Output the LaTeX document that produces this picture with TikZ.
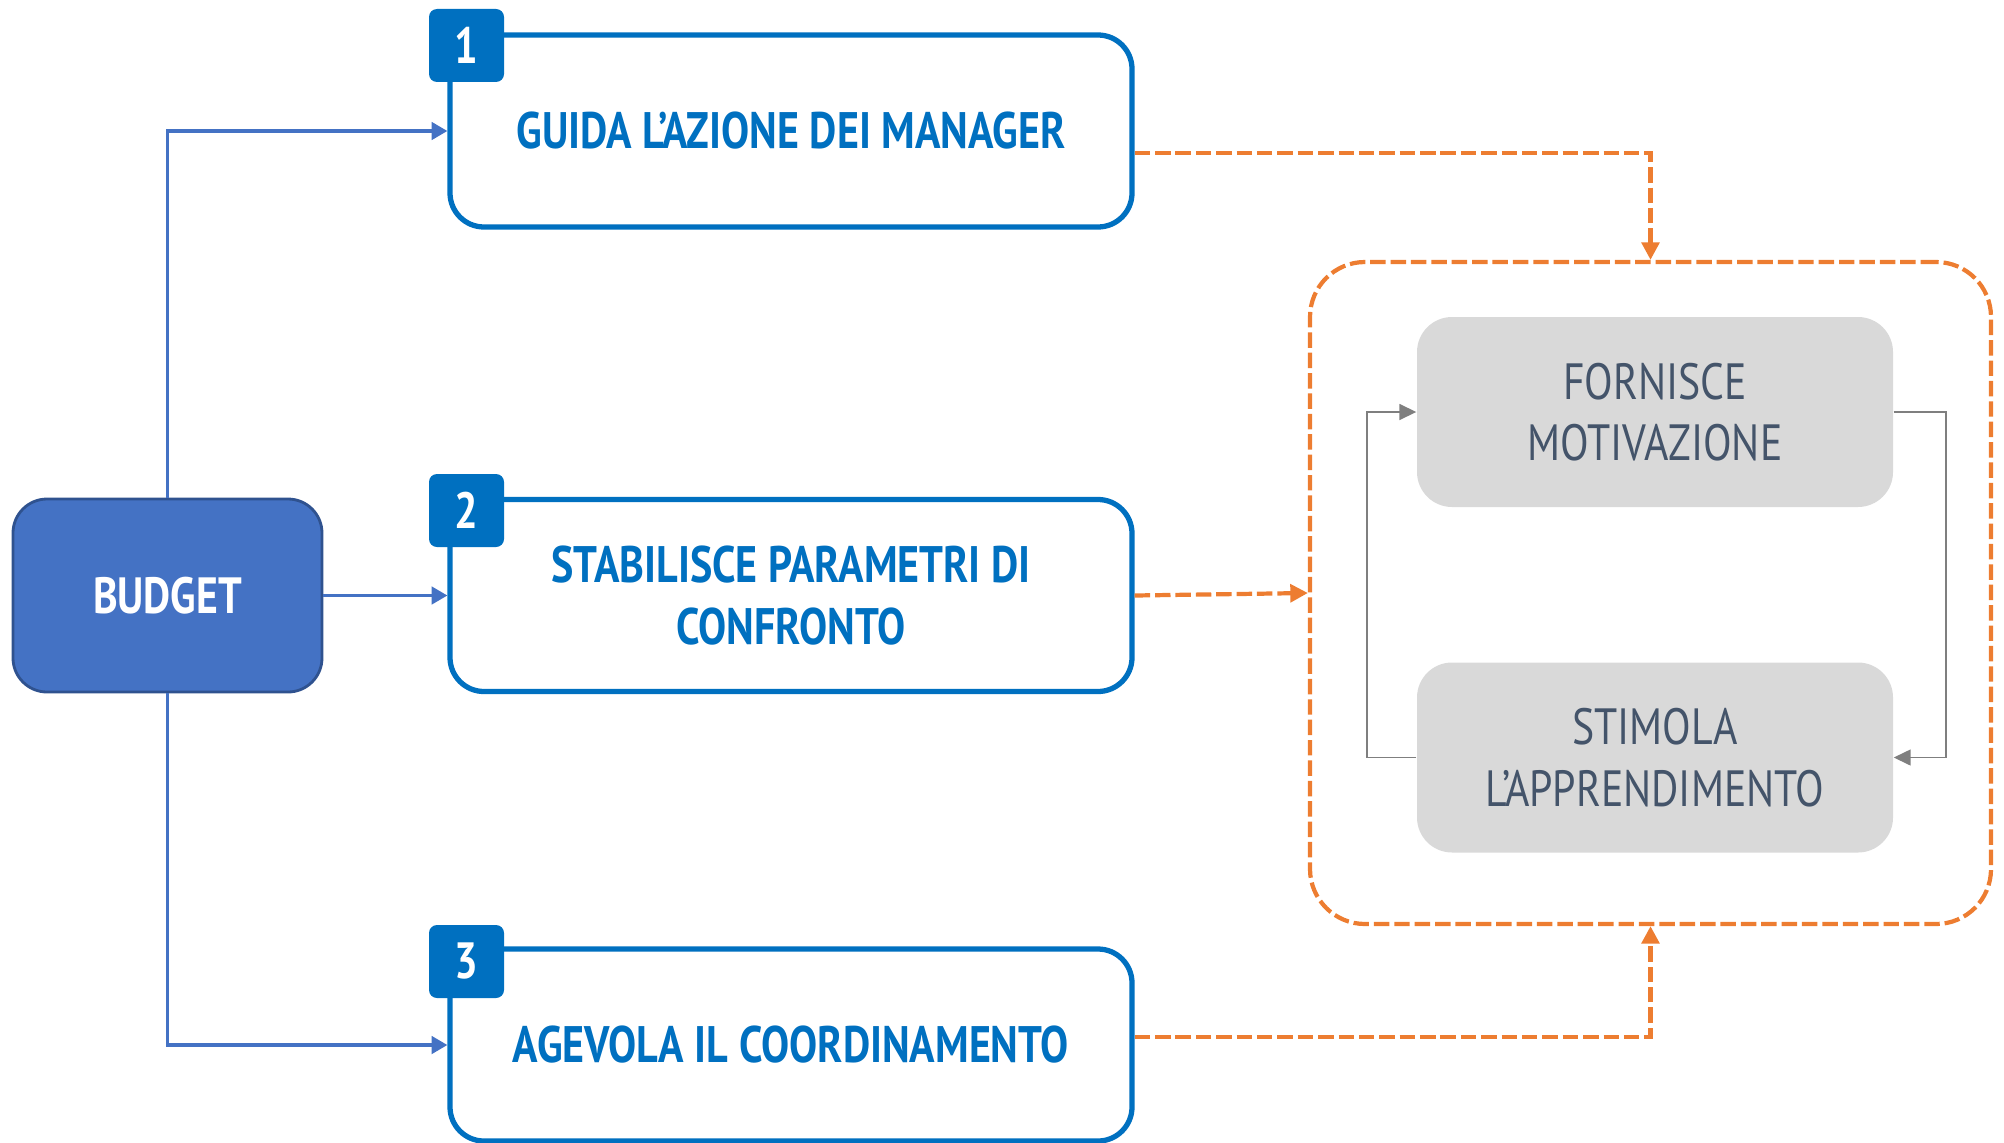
\documentclass[tikz,border=0pt]{standalone}
\usepackage{fontspec}
\setmainfont{PT Sans}[FakeStretch=0.82]
\usepackage{tikz}
\usetikzlibrary{arrows.meta}
\definecolor{goalblue}{HTML}{0070C0}
\definecolor{budgetblue}{HTML}{4472C4}
\definecolor{budgetedge}{HTML}{2F528F}
\definecolor{effectorange}{HTML}{ED7D31}
\definecolor{effectgray}{HTML}{D9D9D9}
\definecolor{effecttext}{HTML}{44546A}
\definecolor{backgray}{HTML}{7F7F7F}

\begin{document}
\begin{tikzpicture}[
  budget/.style={draw=budgetedge, fill=budgetblue, line width=0.8pt, rounded corners=0.34cm,
    minimum width=3.09cm, minimum height=1.93cm, text=white, font=\bfseries\fontsize{14.5}{17.5}\selectfont},
  goal/.style={draw=goalblue, fill=white, line width=1.5pt, rounded corners=0.34cm,
    minimum width=6.82cm, minimum height=1.92cm, align=center, text=goalblue,
    font=\bfseries\fontsize{14.6}{17.5}\selectfont},
  badge/.style={fill=goalblue, rounded corners=0.08cm, minimum width=0.75cm, minimum height=0.73cm,
    inner sep=0pt, text=white, font=\bfseries\fontsize{14.5}{17.5}\selectfont},
  group/.style={draw=effectorange, line width=1.2pt, dash pattern=on 4.4pt off 1.4pt,
    rounded corners=0.55cm, minimum width=6.81cm, minimum height=6.62cm},
  effect/.style={fill=effectgray, rounded corners=0.35cm, minimum width=4.76cm, minimum height=1.9cm,
    align=center, text=effecttext, font=\fontsize{14.5}{17.5}\selectfont},
  feed/.style={draw=budgetblue, line width=0.9pt, -{Triangle[length=4.5pt,width=5pt]}},
  impact/.style={draw=effectorange, line width=1.2pt, dash pattern=on 4.4pt off 1.4pt,
    -{Triangle[length=5pt,width=5pt]}},
  backline/.style={draw=backgray, line width=0.5pt, -{Triangle[length=4.8pt,width=4.5pt]}}
]

\useasboundingbox (0, 0) rectangle (20.04, 11.42);

% budget and its three roles
\node[budget] (bud) at (1.675, 5.465) {BUDGET};
\node[goal] (g1) at (7.91, 10.11) {GUIDA L'AZIONE DEI MANAGER};
\node[goal] (g2) at (7.91, 5.465) {STABILISCE PARAMETRI DI\\CONFRONTO};
\node[goal] (g3) at (7.91, 0.97) {AGEVOLA IL COORDINAMENTO};

\node[badge] (n1) at (4.665, 10.965) {1};
\node[badge] (n2) at (4.665, 6.315) {2};
\node[badge] (n3) at (4.665, 1.805) {3};

% effects
\node[group] (grp) at (16.505, 5.49) {};
\node[effect] (fm) at (16.55, 7.30) {FORNISCE\\MOTIVAZIONE};
\node[effect] (sa) at (16.55, 3.845) {STIMOLA\\L'APPRENDIMENTO};

\draw[feed] (bud.north) |- (g1.west);
\draw[feed] (bud.east) -- (g2.west);
\draw[feed] (bud.south) |- (g3.west);

\draw[impact] ([yshift=-0.22cm]g1.east) -| (grp.north);
\draw[impact] (g2.east) -- (grp.west);
\draw[impact] ([yshift=0.08cm]g3.east) -| (grp.south);

\draw[backline] (sa.west) -- ++(-0.49, 0) |- (fm.west);
\draw[backline] (fm.east) -- ++(0.52, 0) |- (sa.east);

\end{tikzpicture}
\end{document}
